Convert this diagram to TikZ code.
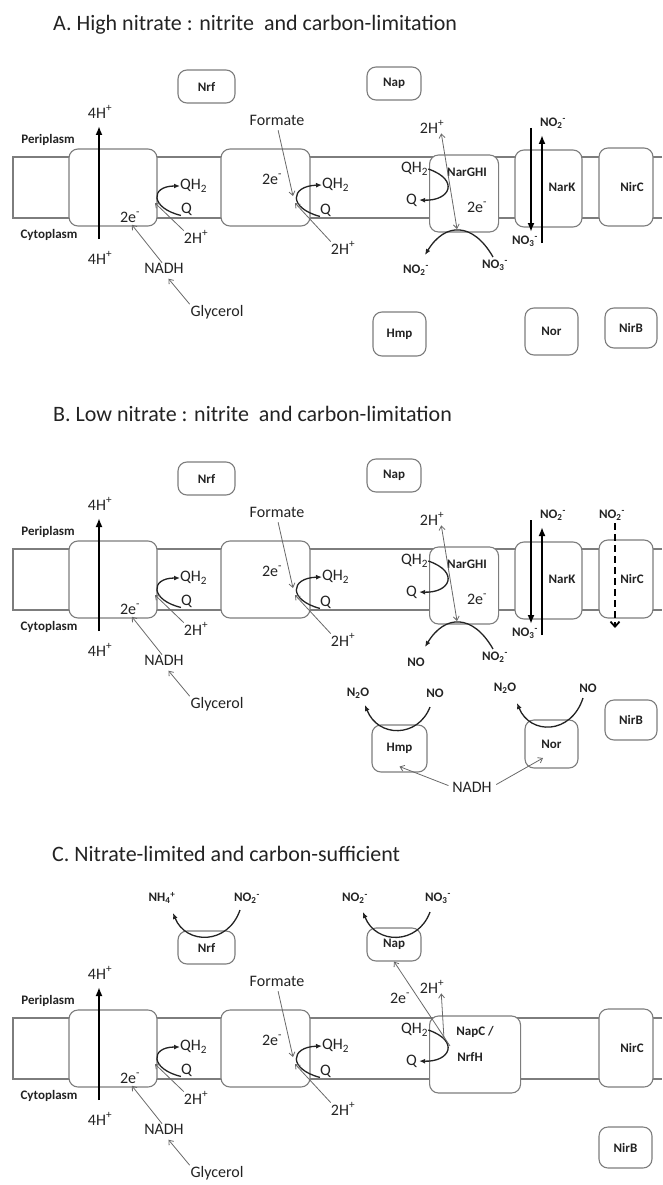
\documentclass[tikz,border=0pt]{standalone}
\usepackage{fontspec}
\setmainfont{Carlito}
\usetikzlibrary{arrows.meta}
\definecolor{boxgray}{RGB}{125,125,125}
\definecolor{arrgray}{RGB}{105,105,105}
\definecolor{ink}{RGB}{35,35,35}
\newcommand\ionlbl[3]{#1\textsubscript{#2}\textsuperscript{#3}}

\begin{document}
\begin{tikzpicture}[x=1pt, y=-1pt,
    protein/.style={draw=boxgray, fill=white, rounded corners=9pt, line width=1.1pt, inner sep=0pt},
    membrane/.style={draw=boxgray, line width=1.1pt},
    lbl/.style={font=\fontsize{16}{19}\selectfont, text=ink, inner sep=0pt},
    tag/.style={font=\fontsize{13}{15}\selectfont\bfseries, text=ink, inner sep=0pt},
    ttl/.style={font=\fontsize{22}{26}\selectfont, text=ink, anchor=base west, inner sep=0pt},
    pump/.style={line width=2pt, -{Latex[length=9pt,width=7pt]}},
    flow/.style={line width=1.3pt, draw=ink, -{Latex[length=6pt,width=5pt]}},
    thinarr/.style={line width=0.8pt, draw=arrgray, -{Straight Barb[length=4pt,width=6pt]}}
]
\useasboundingbox (0,0) rectangle (662,1185);

% titles
\node[ttl] (ttla) at (53,31) {A. High nitrate : nitrite \ and carbon-limitation};
\node[ttl] (ttlb) at (53,421) {B. Low nitrate : nitrite \ and carbon-limitation};
\node[ttl] (ttlc) at (52,861) {C. Nitrate-limited and carbon-sufficient};

% parts shared by all three panels
\foreach \p/\dy/\rw in {a/0/69,b/392/69,c/861/91}{
\begin{scope}[shift={(0,\dy)}]
  % membrane
  \draw[membrane] (662,157) -- (13,157) -- (13,218) -- (662,218);
  \node[tag] (peri\p) at (48,140) {Periplasm};
  \node[tag] (cyto\p) at (49,235) {Cytoplasm};
  \node[protein, tag, minimum width=57pt, minimum height=33pt] (nrf\p) at (206.5,86.5) {Nrf};
  \node[protein, tag, minimum width=54pt, minimum height=33pt] (nap\p) at (394,83.5) {Nap};
  % NADH dehydrogenase
  \node[protein, minimum width=88pt, minimum height=77pt] (nuo\p) at (113,187.5) {};
  \node[lbl] (h4t\p) at (100,112) {4H\textsuperscript{+}};
  \node[lbl] (h4b\p) at (100,258) {4H\textsuperscript{+}};
  \coordinate (pumpin\p) at (99,239);
  \coordinate (pumpout\p) at (99,126);
  \draw[pump] (pumpin\p) -- (pumpout\p);
  \node[lbl] (e1\p) at (130,217) {2e\textsuperscript{-}};
  \node[lbl, anchor=west] (qh1\p) at (180,186) {QH\textsubscript{2}};
  \node[lbl, anchor=west] (q1\p) at (181,209) {Q};
  \draw[flow] (q1\p.south west) .. controls (150,208) and (150,186) .. (qh1\p.west);
  \node[lbl] (hp1\p) at (196,237) {2H\textsuperscript{+}};
  \coordinate (v1\p) at (155,203);
  \draw[thinarr] (hp1\p.north west) -- (v1\p);
  \node[lbl] (nadh\p) at (164,268) {NADH};
  \draw[thinarr, shorten >=3pt] (nadh\p.110) -- (e1\p.south);
  \node[lbl] (gly\p) at (217,312) {Glycerol};
  \draw[thinarr, shorten <=1pt, shorten >=7pt] (gly\p.north west) -- (nadh\p.south);
  % formate dehydrogenase
  \node[protein, minimum width=89pt, minimum height=77pt] (fdh\p) at (265.5,187.5) {};
  \node[lbl] (form\p) at (277,120) {Formate};
  \node[lbl] (e2\p) at (272,179) {2e\textsuperscript{-}};
  \node[lbl, anchor=west] (qh2\p) at (322,185) {QH\textsubscript{2}};
  \node[lbl, anchor=west] (q2\p) at (320,210) {Q};
  \draw[flow] (q2\p.south west) .. controls (288,208) and (290,186) .. (qh2\p.west);
  \coordinate (v2\p) at (293,196);
  \draw[thinarr, shorten <=5pt] (form\p.south) -- (v2\p);
  \node[lbl] (hp2\p) at (343,248) {2H\textsuperscript{+}};
  \coordinate (v2b\p) at (295,203);
  \draw[thinarr] (hp2\p.north west) -- (v2b\p);
  % quinol oxidising reductase
  \node[protein, minimum width=\rw pt, minimum height=77pt, anchor=west] (red\p) at (429,193.5) {};
  \node[lbl, anchor=west] (qh3\p) at (401,169) {QH\textsubscript{2}};
  \node[lbl, anchor=west] (q3\p) at (406,200) {Q};
  \draw[flow] (qh3\p.east) .. controls (460,180) and (450,201) .. ([xshift=2pt]q3\p.east);
  % NirC
  \node[protein, minimum width=54pt, minimum height=78pt] (nirc\p) at (626,187) {};
  \node[tag] (nircl\p) at (632,187) {NirC};
\end{scope}
}

% NarGHI and NarK (A and B)
\foreach \p/\dy/\lft/\rgt in {a/0/{\ionlbl{NO}{2}{-}}/{\ionlbl{NO}{3}{-}},b/392/NO/{\ionlbl{NO}{2}{-}}}{
\begin{scope}[shift={(0,\dy)}]
  \node[tag] (nargl\p) at (467,172) {NarGHI};
  \node[lbl] (e3\p) at (477,207) {2e\textsuperscript{-}};
  \node[lbl] (hp3\p) at (432,127) {2H\textsuperscript{+}};
  \coordinate (v3\p) at (457,229);
  \draw[thinarr, {Straight Barb[length=4pt,width=6pt]}-{Straight Barb[length=4pt,width=6pt]}] ([xshift=-3pt]hp3\p.south east) -- (v3\p);
  \node[tag] (prod\p) at (416,270) {\lft};
  \node[tag] (subs\p) at (495,265) {\rgt};
  \coordinate (archin\p) at (493,257);
  \coordinate (archout\p) at (425,255);
  \draw[flow] (archin\p) .. controls (473,222) and (445,222) .. (archout\p);
  % NarK
  \node[protein, minimum width=67pt, minimum height=77pt] (nark\p) at (548.5,188.5) {};
  \node[tag] (narkl\p) at (562,187) {NarK};
  \node[tag] (narkout\p) at (553,123) {\ionlbl{NO}{2}{-}};
  \node[tag] (narkin\p) at (525,241) {\ionlbl{NO}{3}{-}};
  \coordinate (kd1\p) at (531,128);
  \coordinate (kd2\p) at (531,232);
  \coordinate (ku1\p) at (542,243);
  \coordinate (ku2\p) at (542,135);
  \draw[pump] (kd1\p) -- (kd2\p);
  \draw[pump] (ku1\p) -- (ku2\p);
  \node[protein, tag, minimum width=52pt, minimum height=40pt] (nirb\p) at (631,328) {NirB};
\end{scope}
}

% A: cytoplasmic enzymes
\node[protein, tag, minimum width=53pt, minimum height=44pt] (hmpa) at (399.5,334) {Hmp};
\node[protein, tag, minimum width=53pt, minimum height=47pt] (nora) at (551.5,331.5) {Nor};

% B: NirC leak, Hmp and Nor
\begin{scope}[shift={(0,392)}]
  \node[tag] (nircinb) at (612,123) {\ionlbl{NO}{2}{-}};
  \coordinate (leak1) at (615,131);
  \coordinate (leak2) at (615,236);
  \draw[line width=1.8pt, dash pattern=on 7pt off 4pt, -{Straight Barb[length=5pt,width=9pt]}] (leak1) -- (leak2);
  \node[protein, tag, minimum width=55pt, minimum height=47pt] (hmpb) at (399.5,356.5) {Hmp};
  \node[tag] (hmpn2o) at (358,301) {N\textsubscript{2}O};
  \node[tag] (hmpno) at (435,301) {NO};
  \coordinate (hmpin) at (430,315);
  \coordinate (hmpout) at (365,313);
  \draw[flow] (hmpin) .. controls (418,346) and (378,346) .. (hmpout);
  \node[protein, tag, minimum width=53pt, minimum height=48pt] (norb) at (551.5,352) {Nor};
  \node[tag] (norn2o) at (505,296) {N\textsubscript{2}O};
  \node[tag] (norno) at (588,296) {NO};
  \coordinate (norin) at (583,306);
  \coordinate (norout) at (517,311);
  \draw[flow] (norin) .. controls (571,343) and (530,343) .. (norout);
  \node[lbl] (nadhr) at (472,395) {NADH};
  \coordinate (nortip) at (543,366);
  \draw[thinarr, shorten <=4pt] (nadhr.west) -- ([yshift=6pt]hmpb.south);
  \draw[thinarr, shorten <=5pt] (nadhr.east) -- (nortip);
\end{scope}

% C: Nrf, Nap and NapC/NrfH
\begin{scope}[shift={(0,861)}]
  \node[tag] (napcl1) at (475,171) {NapC /};
  \node[tag] (napcl2) at (470,196) {NrfH};
  \node[tag] (nh4) at (162,37) {\ionlbl{NH}{4}{+}};
  \node[tag] (nrfin) at (247,37) {\ionlbl{NO}{2}{-}};
  \coordinate (nrfa) at (240,49);
  \coordinate (nrfb) at (173,52);
  \draw[flow] (nrfa) .. controls (228,84) and (186,84) .. (nrfb);
  \node[tag] (napout) at (355,37) {\ionlbl{NO}{2}{-}};
  \node[tag] (napin) at (438,37) {\ionlbl{NO}{3}{-}};
  \coordinate (napa) at (430,51);
  \coordinate (napb) at (363,51);
  \draw[flow] (napa) .. controls (418,84) and (376,84) .. (napb);
  \node[lbl] (e4) at (400,137) {2e\textsuperscript{-}};
  \node[lbl] (hp4) at (432,126) {2H\textsuperscript{+}};
  \coordinate (fork1) at (450,185);
  \coordinate (fork2) at (444,178);
  \draw[thinarr] (fork1) -- (napc.south);
  \draw[thinarr] (fork2) -- ([xshift=-3pt]hp4.south east);
  \node[protein, tag, minimum width=53pt, minimum height=41pt] (nirbc) at (625.5,286.5) {NirB};
\end{scope}
\end{tikzpicture}
\end{document}
